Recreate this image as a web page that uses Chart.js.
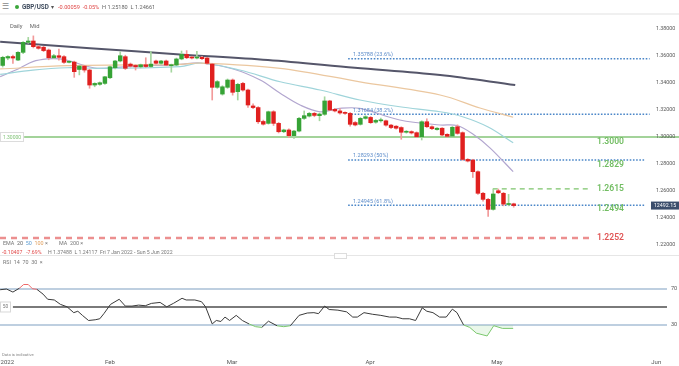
<!DOCTYPE html>
<html>
<head>
<meta charset="utf-8">
<script src="https://cdn.jsdelivr.net/npm/chart.js@4.4.0/dist/chart.umd.min.js"></script>
<style>
  body { margin: 0; width: 679px; height: 366px; overflow: hidden; background: #fff; position: relative;
         font-family: Roboto, "Liberation Sans", Arial, sans-serif; }
  canvas { position: absolute; left: 0; }
  .t { position: absolute; white-space: nowrap; line-height: 1; color: #777; font-size: 5.5px; z-index: 5; }
  .sep { position: absolute; left: 0; width: 679px; height: 1px; background: #e6e6e6; z-index: 5; }
</style>
</head>
<body>

<!-- header bar -->
<div class="t" style="left:2px;top:3px;font-size:8px;color:#888">&#9776;</div>
<div style="position:absolute;left:15px;top:5px;width:4px;height:4px;border-radius:50%;background:#3aa63a"></div>
<div class="t" style="left:22px;top:4px;font-size:6.3px;font-weight:bold;color:#3d4a5c">GBP/USD</div>
<div class="t" style="left:51px;top:4px;font-size:6px;color:#555">&#9662;</div>
<div class="t" style="left:58px;top:4.5px;font-size:5.6px;color:#e04848">-0.00059&nbsp;&nbsp;-0.05%</div>
<div class="t" style="left:102px;top:4.5px;font-size:5.6px;color:#666">H 1.25180&nbsp;&nbsp;L 1.24661</div>
<div class="sep" style="top:13px;height:2px;background:#f0f0f0"></div>
<div class="t" style="left:10px;top:24px;font-size:5.8px;color:#666">Daily&nbsp;&nbsp;&nbsp;&nbsp;&nbsp;Mid</div>

<!-- legend rows under price pane -->
<div class="t" style="left:3px;top:241px;font-size:5.4px;color:#777">EMA&nbsp; <span style="color:#666">20</span>&nbsp; <span style="color:#5b9bd0">50</span>&nbsp; <span style="color:#e0a060">100</span>&nbsp;&#215;</div>
<div class="t" style="left:59px;top:241px;font-size:5.4px;color:#777">MA&nbsp; 200&nbsp;&#215;</div>
<div class="t" style="left:2px;top:249.5px;font-size:5.2px;color:#e04848">-0.10407&nbsp;&nbsp; -7.69%</div>
<div class="t" style="left:48px;top:249.5px;font-size:5.2px;color:#777">H 1.37488&nbsp;&nbsp;L 1.24117&nbsp;&nbsp;Fri 7 Jan 2022 - Sun 5 Jun 2022</div>
<div class="sep" style="top:255px"></div>
<div style="position:absolute;left:334px;top:253px;width:11px;height:4px;border:1px solid #ddd;background:#fff;z-index:6"></div>
<div class="t" style="left:3px;top:259.5px;font-size:5.4px;color:#777">RSI&nbsp; 14&nbsp; 70&nbsp; 30&nbsp; &#215;</div>
<div class="t" style="left:2px;top:353px;font-size:4.2px;color:#888">Data is indicative</div>

<canvas id="priceChart" width="679" height="240" style="top:14px"></canvas>
<canvas id="rsiChart" width="679" height="110" style="top:256px"></canvas>

<script>
/* ── Daily candles, 7 Jan → 5 May 2022 (index = trading day) ─ */
const opens  = [1.3530,1.3585,1.3596,1.3570,1.3627,1.3701,1.3711,1.3669,1.3665,1.3644,
                1.3587,1.3602,1.3595,1.3553,1.3555,1.3500,1.3525,1.3496,1.3385,1.3390,
                1.3397,1.3439,1.3513,1.3563,1.3595,1.3540,1.3530,1.3520,1.3535,1.3522,
                1.3563,1.3546,1.3563,1.3528,1.3533,1.3578,1.3612,1.3590,1.3585,1.3590,
                1.3585,1.3540,1.3368,1.3318,1.3368,1.3422,1.3336,1.3397,1.3348,1.3230,
                1.3218,1.3115,1.3101,1.3187,1.3101,1.3039,1.3052,1.3010,1.3044,1.3138,
                1.3155,1.3175,1.3158,1.3168,1.3267,1.3205,1.3193,1.3180,1.3175,1.3107,
                1.3094,1.3138,1.3145,1.3110,1.3120,1.3120,1.3088,1.3080,1.3070,1.3035,
                1.3040,1.3032,1.3002,1.3113,1.3076,1.3055,1.3065,1.3020,1.3007,1.3076,
                1.3032,1.2834,1.2829,1.2743,1.2583,1.2538,1.2464,1.2602,1.2583,1.2500,
                1.2505];
const highs  = [1.3598,1.3602,1.3606,1.3632,1.3706,1.3738,1.3749,1.3678,1.3672,1.3652,
                1.3612,1.3652,1.3603,1.3565,1.3562,1.3530,1.3530,1.3502,1.3402,1.3408,
                1.3450,1.3525,1.3568,1.3632,1.3606,1.3548,1.3535,1.3540,1.3587,1.3632,
                1.3570,1.3568,1.3570,1.3540,1.3585,1.3637,1.3640,1.3598,1.3635,1.3597,
                1.3590,1.3545,1.3418,1.3380,1.3430,1.3430,1.3398,1.3405,1.3355,1.3245,
                1.3225,1.3125,1.3192,1.3195,1.3108,1.3058,1.3060,1.3050,1.3145,1.3193,
                1.3182,1.3182,1.3178,1.3298,1.3272,1.3212,1.3210,1.3186,1.3182,1.3115,
                1.3145,1.3158,1.3152,1.3130,1.3140,1.3126,1.3094,1.3085,1.3076,1.3048,
                1.3046,1.3038,1.3120,1.3135,1.3082,1.3070,1.3070,1.3025,1.3078,1.3090,
                1.3038,1.2840,1.2835,1.2750,1.2590,1.2545,1.2612,1.2615,1.2590,1.2575,
                1.2510];
const lows   = [1.3518,1.3572,1.3545,1.3565,1.3618,1.3694,1.3660,1.3650,1.3632,1.3572,
                1.3580,1.3570,1.3545,1.3548,1.3442,1.3460,1.3480,1.3361,1.3372,1.3383,
                1.3390,1.3432,1.3505,1.3556,1.3500,1.3518,1.3496,1.3512,1.3515,1.3515,
                1.3540,1.3538,1.3528,1.3480,1.3528,1.3572,1.3580,1.3578,1.3578,1.3572,
                1.3540,1.3274,1.3360,1.3310,1.3360,1.3310,1.3274,1.3340,1.3220,1.3210,
                1.3100,1.3088,1.3095,1.3085,1.3030,1.3032,1.2995,1.2990,1.3038,1.3130,
                1.3148,1.3150,1.3120,1.3160,1.3195,1.3185,1.3170,1.3168,1.3080,1.3082,
                1.3088,1.3132,1.3100,1.3102,1.3110,1.3080,1.3062,1.3058,1.2983,1.3028,
                1.3022,1.2995,1.2978,1.3070,1.3055,1.3050,1.3008,1.2998,1.3000,1.3020,
                1.2828,1.2815,1.2700,1.2575,1.2525,1.2412,1.2458,1.2580,1.2490,1.2490,
                1.2480];
const closes = [1.3590,1.3596,1.3585,1.3627,1.3701,1.3711,1.3669,1.3657,1.3640,1.3587,
                1.3602,1.3590,1.3553,1.3560,1.3484,1.3525,1.3496,1.3385,1.3397,1.3402,
                1.3446,1.3520,1.3563,1.3602,1.3509,1.3525,1.3520,1.3535,1.3522,1.3540,
                1.3546,1.3563,1.3533,1.3535,1.3578,1.3612,1.3587,1.3585,1.3590,1.3580,
                1.3546,1.3368,1.3410,1.3372,1.3422,1.3331,1.3390,1.3348,1.3237,1.3218,
                1.3113,1.3095,1.3187,1.3101,1.3039,1.3052,1.3010,1.3044,1.3138,1.3158,
                1.3175,1.3160,1.3170,1.3267,1.3200,1.3193,1.3178,1.3175,1.3094,1.3089,
                1.3138,1.3150,1.3106,1.3123,1.3125,1.3088,1.3070,1.3065,1.3035,1.3040,
                1.3030,1.3002,1.3113,1.3076,1.3062,1.3065,1.3015,1.3005,1.3072,1.3027,
                1.2834,1.2822,1.2743,1.2583,1.2538,1.2464,1.2578,1.2587,1.2503,1.2505,
                1.2492];

/* ── Moving averages (index, price) ─── */
const ema20X  = [-0.5, 3.4, 5.9, 8.7, 11.2, 13.2, 15.7, 18.5, 21, 25.5, 32.2, 34.7, 38.7, 45.1, 50.4, 54.3, 58.2, 62.1, 66, 69.9, 77.7, 85.6, 88.9, 92, 95.4, 99.9];
const ema20Y  = [1.3447,1.3511,1.3558,1.3578,1.3578,1.3563,1.3533,1.3509,1.3511,1.3526,1.3533,1.3538,1.3548,1.3504,1.3422,1.3324,1.3237,1.3187,1.3212,1.3212,1.3126,1.3089,1.3085,1.3022,1.2918,1.2743];
const ema50X  = [-0.5, 5.9, 12.6, 19, 34.7, 38.7, 46.4, 54.3, 62.1, 69.9, 77.7, 85.6, 90, 95, 99.9];
const ema50Y  = [1.3464,1.3496,1.3513,1.3509,1.3521,1.3548,1.3496,1.3409,1.3348,1.3274,1.3224,1.3187,1.3150,1.3074,1.2957];
const ema100X = [-0.5, 12.6, 34.7, 38.7, 54.3, 69.9, 85.6, 93.4, 99.9];
const ema100Y = [1.3504,1.3528,1.3538,1.3548,1.3509,1.3409,1.3311,1.3215,1.3146];
const ma200X  = [-0.5, 17.1, 34.7, 51.9, 68.9, 85.6, 100.3];
const ma200Y  = [1.3706,1.3658,1.3612,1.3570,1.3513,1.3459,1.3385];

/* ── Levels ───────────────────────────────────────────────── */
const fibLevels  = [1.35788, 1.31684, 1.28293, 1.24945];
const fibLabels  = ['1.35788 (23.6%)', '1.31684 (38.2%)', '1.28293 (50%)', '1.24945 (61.8%)'];
const keyLevels  = [1.3000, 1.2829, 1.2615, 1.2494, 1.2252];
const keyLabels  = ['1.3000', '1.2829', '1.2615', '1.2494', '1.2252'];
const priceTicks = [1.38, 1.36, 1.34, 1.32, 1.30, 1.28, 1.26, 1.24, 1.22];
const lastPrice  = 1.24921;

/* ── RSI (14) ─────────────────────────────────────────────── */
const rsiX = [-0.5,0.74,2.0,3.3,4.1,5.0,5.8,6.7,7.9,8.8,10.1,11.3,12.6,13.9,14.7,15.6,16.8,18.1,19.0,19.8,
              21.1,22.8,24.0,25.3,26.6,27.9,29.1,30.8,32.1,33.4,35.1,35.9,37.6,38.9,39.7,41.0,41.8,42.7,43.5,44.4,
              45.7,46.9,48.2,49.5,50.7,52.0,53.7,55.0,56.3,58.0,59.6,60.9,61.8,63.0,63.9,65.6,67.3,68.5,69.4,70.7,
              72.4,74.0,75.7,77.0,78.3,79.6,80.8,82.1,83.0,84.2,85.5,86.8,88.0,88.9,90.2,91.4,92.7,94.8,96.1,97.8,99.9];
const rsiY = [69.2,70,66.6,71,75,75,70.4,69.6,64.3,58.6,57.8,52.9,50.2,43.7,45.3,40.7,35,35.8,36.9,42.6,
              52.9,58.6,51,51,52.1,51.4,54,55.1,50.2,54,59.7,57.8,57.8,55.9,50.2,31.2,35,33.9,38.8,35,
              40.7,35,31.2,28.1,27.3,34.2,29.1,28.1,29.2,40.7,43.3,43.7,42.6,51,47.2,46.5,44.6,38.8,38.8,43.7,
              41.9,40.7,38.8,38.8,36.9,36.9,35,49.1,45.3,43.7,38.8,38.8,47.6,43.7,30,27.3,20.9,17.8,29.2,26.2,26.2];
const rsiLevels = [70, 50, 30];

const monthTicks  = [0.9, 21, 44.9, 71.9, 96.7, 127.9];
const monthLabels = ['2022', 'Feb', 'Mar', 'Apr', 'May', 'Jun'];

/* ── shared x range (candle index), so both panes line up ─── */
const X_MIN = -0.528, X_MAX = 132.35;
const FONT = 'Roboto, "Liberation Sans", Arial, sans-serif';

const UP = '#36a336', DOWN = '#e0201f', UP_WICK = '#a5d69f', DOWN_WICK = '#f29a9a';

const isUp = i => closes[i] >= opens[i];
const pts  = (xs, ys) => xs.map((x, i) => ({ x, y: ys[i] }));
const hline = (v, x0, x1) => [{ x: x0, y: v }, { x: x1, y: v }];

/* ── Price pane ───────────────────────────────────────────── */
const priceText = {
  id: 'priceText',
  afterDatasetsDraw(chart) {
    const { ctx } = chart;
    const ys = chart.scales.y;
    ctx.save();
    ctx.textBaseline = 'middle';

    // right price scale
    ctx.font = '5.3px ' + FONT;
    ctx.fillStyle = '#555';
    ctx.textAlign = 'left';
    priceTicks.forEach(v => ctx.fillText(v.toFixed(5), 656, ys.getPixelForValue(v)));

    // fib labels
    ctx.font = '5.5px ' + FONT;
    ctx.fillStyle = '#5b8bc9';
    fibLevels.forEach((v, i) => ctx.fillText(fibLabels[i], 353, ys.getPixelForValue(v) - 4));

    // big key level labels
    const offsets = [5, 5, 0, 4, 0];
    ctx.font = '600 8.6px ' + FONT;
    keyLevels.forEach((v, i) => {
      ctx.fillStyle = i === keyLevels.length - 1 ? '#e05454' : '#72bd62';
      ctx.fillText(keyLabels[i], 597, ys.getPixelForValue(v) + offsets[i]);
    });

    // left 1.30000 tag
    const py = ys.getPixelForValue(1.30);
    ctx.fillStyle = '#fff';
    ctx.strokeStyle = '#dcdcdc';
    ctx.lineWidth = 1;
    ctx.fillRect(0.5, py - 4.5, 23, 9);
    ctx.strokeRect(0.5, py - 4.5, 23, 9);
    ctx.fillStyle = '#84c47a';
    ctx.font = '5px ' + FONT;
    ctx.textAlign = 'center';
    ctx.fillText('1.30000', 12, py + 0.3);

    // last price box
    const ly = ys.getPixelForValue(lastPrice);
    ctx.fillStyle = '#3c4e6c';
    ctx.fillRect(651, ly - 4, 28, 8);
    ctx.fillStyle = '#fff';
    ctx.font = '5.3px ' + FONT;
    ctx.fillText('12492.15', 665, ly + 0.3);
    ctx.restore();
  }
};

const lineDs = (data, color, width) => ({
  type: 'line', data, borderColor: color, borderWidth: width,
  pointRadius: 0, fill: false, tension: 0.35, order: 2
});

const levelDs = (data, color, width, dash) => ({
  type: 'line', data, borderColor: color, borderWidth: width, borderDash: dash || [],
  pointRadius: 0, fill: false, tension: 0, order: 3
});

const idx = opens.map((_, i) => i);

new Chart(document.getElementById('priceChart'), {
  type: 'bar',
  data: {
    datasets: [
      { data: idx.map(i => ({ x: i, y: [opens[i], closes[i]] })),
        backgroundColor: idx.map(i => isUp(i) ? UP : DOWN),
        barThickness: 3.8, minBarLength: 1, grouped: false, order: 0 },
      { data: idx.map(i => ({ x: i, y: [lows[i], highs[i]] })),
        backgroundColor: idx.map(i => isUp(i) ? UP_WICK : DOWN_WICK),
        barThickness: 1, grouped: false, order: 1 },

      lineDs(pts(ma200X, ma200Y), '#55566a', 2),
      lineDs(pts(ema100X, ema100Y), '#ebc79f', 1.2),
      lineDs(pts(ema50X, ema50Y), '#9fd4da', 1.2),
      lineDs(pts(ema20X, ema20Y), '#b2a6cf', 1.2),

      levelDs(hline(fibLevels[0], 67.6, 126.6), '#4a86c8', 1.5, [1.6, 1.6]),
      levelDs(hline(fibLevels[1], 67.6, 126.6), '#4a86c8', 1.5, [1.6, 1.6]),
      levelDs(hline(fibLevels[2], 67.6, 125.7), '#4a86c8', 1.5, [1.6, 1.6]),
      levelDs(hline(fibLevels[3], 67.6, 125.7), '#4a86c8', 1.5, [1.6, 1.6]),
      levelDs(hline(keyLevels[0], 4.2, X_MAX), '#a3d39a', 2),
      levelDs(hline(keyLevels[2], 95.9, 114.9), '#7cc46b', 1.3, [5, 4]),
      levelDs(hline(keyLevels[4], X_MIN, 114.9), '#ec8f8f', 2.6, [6, 5])
    ]
  },
  options: {
    responsive: false, animation: false, devicePixelRatio: 1,
    layout: { padding: 0 },
    plugins: { legend: { display: false }, tooltip: { enabled: false } },
    scales: {
      x: { type: 'linear', min: X_MIN, max: X_MAX, display: false, offset: false },
      y: { min: 1.213333, max: 1.391111, display: false }
    }
  },
  plugins: [priceText]
});

/* ── RSI pane ─────────────────────────────────────────────── */
const rsiText = {
  id: 'rsiText',
  afterDatasetsDraw(chart) {
    const { ctx } = chart;
    const xs = chart.scales.x, ys = chart.scales.y;
    ctx.save();
    ctx.textBaseline = 'middle';
    ctx.font = '5.5px ' + FONT;
    ctx.fillStyle = '#555';
    ctx.textAlign = 'left';
    ctx.fillText('70', 671, ys.getPixelForValue(70));
    ctx.fillText('30', 671, ys.getPixelForValue(30));

    // 50 tag on the left
    const p50 = ys.getPixelForValue(50);
    ctx.fillStyle = '#fff';
    ctx.strokeStyle = '#d8d8d8';
    ctx.fillRect(0.5, p50 - 5, 10, 10);
    ctx.strokeRect(0.5, p50 - 5, 10, 10);
    ctx.fillStyle = '#777';
    ctx.textAlign = 'center';
    ctx.font = '4.8px ' + FONT;
    ctx.fillText('50', 5.5, p50 + 0.3);

    // month labels along the bottom
    ctx.font = '6px ' + FONT;
    ctx.fillStyle = '#555';
    monthTicks.forEach((v, i) => ctx.fillText(monthLabels[i], xs.getPixelForValue(v), 106));
    ctx.restore();
  }
};

new Chart(document.getElementById('rsiChart'), {
  type: 'line',
  data: {
    datasets: [
      { data: pts(rsiX, rsiY), borderColor: '#3a3a3a', borderWidth: 1, pointRadius: 0, tension: 0,
        fill: { target: { value: 30 }, above: 'rgba(0,0,0,0)', below: 'rgba(140,210,140,0.18)' },
        segment: {
          borderColor: c => {
            const a = c.p0.parsed.y, b = c.p1.parsed.y;
            if (a >= 69.5 && b >= 69.5) return '#ef6b6b';
            if (a <= 31.5 && b <= 31.5) return '#7cc86e';
            return undefined;
          }
        }, order: 0 },
      { data: hline(rsiLevels[0], X_MIN, 130), borderColor: '#a9bfd6', borderWidth: 1.4, pointRadius: 0, fill: false, order: 1 },
      { data: hline(rsiLevels[1], 2.0, 130), borderColor: '#7a7a7a', borderWidth: 2, pointRadius: 0, fill: false, order: 1 },
      { data: hline(rsiLevels[2], X_MIN, 130), borderColor: '#a9bfd6', borderWidth: 1.4, pointRadius: 0, fill: false, order: 1 }
    ]
  },
  options: {
    responsive: false, animation: false, devicePixelRatio: 1,
    layout: { padding: 0 },
    plugins: { legend: { display: false }, tooltip: { enabled: false } },
    scales: {
      x: { type: 'linear', min: X_MIN, max: X_MAX, display: false },
      y: { min: -15.6, max: 106.7, display: false }
    }
  },
  plugins: [rsiText]
});
</script>
</body>
</html>
